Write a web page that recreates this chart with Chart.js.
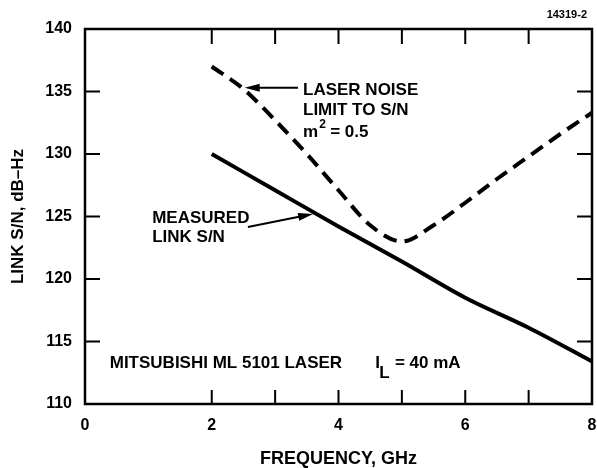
<!DOCTYPE html>
<html lang="en">
<head>
  <meta charset="UTF-8" />
  <title>Link S/N</title>
  <script src="https://cdn.jsdelivr.net/npm/chart.js"></script>
  <style>
    body, html { margin: 0; padding: 0; background: #fff; }
    #wrap { width: 597px; height: 468px; }
  </style>
</head>
<body>
  <div id="wrap"><canvas id="snChart" width="597" height="468"></canvas></div>

  <script>
    // data
    const measuredFreq = [2, 3, 4, 5, 6, 7, 8];
    const measuredSN   = [130, 127.1, 124.2, 121.4, 118.5, 116.1, 113.4];
    const noiseFreq = [2, 2.5, 3, 3.5, 4, 4.5, 5, 5.5, 6, 6.5, 7, 7.5, 8];
    const noiseSN   = [137, 135.2, 132.7, 130.0, 127.1, 124.3, 123.0, 124.3, 126.1, 128.0, 129.8, 131.6, 133.3];
    const xTickLabels = [0, 2, 4, 6, 8];
    const xTickMarks = [2, 3, 4, 5, 6, 7];
    const yTickMarks = [115, 120, 125, 130, 135];

    const FONT = '"Liberation Sans", Arial, sans-serif';
    const ctx = document.getElementById('snChart').getContext('2d');

    const toPoints = (xs, ys) => xs.map((x, i) => ({ x: x, y: ys[i] }));

    // tick marks inside the box, frame, arrows and notes
    const extras = {
      id: 'extras',
      afterDraw(chart) {
        const c = chart.ctx;
        const xs = chart.scales.x, ys = chart.scales.y;
        const a = chart.chartArea;
        c.save();
        c.strokeStyle = '#000';
        c.fillStyle = '#000';
        c.lineWidth = 2.5;
        c.strokeRect(a.left, a.top, a.right - a.left, a.bottom - a.top);

        c.lineWidth = 2;
        xTickMarks.forEach(v => {
          const px = xs.getPixelForValue(v);
          c.beginPath();
          c.moveTo(px, a.bottom); c.lineTo(px, a.bottom - 14);
          c.moveTo(px, a.top); c.lineTo(px, a.top + 15);
          c.stroke();
        });
        yTickMarks.forEach(v => {
          const py = ys.getPixelForValue(v);
          c.beginPath();
          c.moveTo(a.left, py); c.lineTo(a.left + 15, py);
          c.moveTo(a.right, py); c.lineTo(a.right - 15, py);
          c.stroke();
        });

        function arrow(x1, y1, x2, y2) {
          const p1x = xs.getPixelForValue(x1), p1y = ys.getPixelForValue(y1);
          const p2x = xs.getPixelForValue(x2), p2y = ys.getPixelForValue(y2);
          const ang = Math.atan2(p2y - p1y, p2x - p1x);
          c.lineWidth = 2;
          c.beginPath();
          c.moveTo(p1x, p1y); c.lineTo(p2x - 8 * Math.cos(ang), p2y - 8 * Math.sin(ang));
          c.stroke();
          c.beginPath();
          c.moveTo(p2x, p2y);
          c.lineTo(p2x - 15 * Math.cos(ang) + 4 * Math.sin(ang), p2y - 15 * Math.sin(ang) - 4 * Math.cos(ang));
          c.lineTo(p2x - 15 * Math.cos(ang) - 4 * Math.sin(ang), p2y - 15 * Math.sin(ang) + 4 * Math.cos(ang));
          c.closePath();
          c.fill();
        }
        arrow(3.36, 135.3, 2.52, 135.3);
        arrow(2.57, 124.16, 3.6, 125.2);

        const tx = (v) => xs.getPixelForValue(v);
        const ty = (v) => ys.getPixelForValue(v);
        c.font = 'bold 17px ' + FONT;
        c.textBaseline = 'middle';
        c.textAlign = 'left';
        c.fillText('LASER NOISE', tx(3.44), ty(135.12));
        c.fillText('LIMIT TO S/N', tx(3.44), ty(133.52));
        c.fillText('m', tx(3.44), ty(131.76));
        const mw = c.measureText('m').width;
        c.font = 'bold 12px ' + FONT;
        c.fillText('2', tx(3.44) + mw + 1, ty(131.76) - 7);
        c.font = 'bold 17px ' + FONT;
        c.fillText('= 0.5', tx(3.44) + mw + 12, ty(131.76));

        c.fillText('MEASURED', tx(1.06), ty(124.88));
        c.fillText('LINK S/N', tx(1.06), ty(123.36));

        const my = ty(113.28);
        c.fillText('MITSUBISHI ML 5101 LASER', tx(0.39), my);
        c.fillText('I', tx(4.58), my);
        c.fillText('L', tx(4.58) + 4, my + 10);
        c.fillText('= 40 mA', tx(4.89), my);

        c.font = 'bold 11px ' + FONT;
        c.textAlign = 'right';
        c.fillText('14319-2', a.right - 5, 15);
        c.restore();
      }
    };

    new Chart(ctx, {
      type: 'line',
      data: {
        datasets: [
          {
            label: 'Measured link S/N',
            data: toPoints(measuredFreq, measuredSN),
            borderColor: '#000',
            borderWidth: 4,
            pointRadius: 0,
            fill: false,
            cubicInterpolationMode: 'monotone'
          },
          {
            label: 'Laser noise limit to S/N',
            data: toPoints(noiseFreq, noiseSN),
            borderColor: '#000',
            borderWidth: 4,
            borderDash: [14, 8],
            pointRadius: 0,
            fill: false,
            cubicInterpolationMode: 'monotone'
          }
        ]
      },
      options: {
        responsive: false,
        animation: false,
        layout: { padding: { left: 0, top: 29, right: 5, bottom: 0 } },
        plugins: {
          legend: { display: false },
          tooltip: { enabled: false }
        },
        scales: {
          x: {
            type: 'linear',
            min: 0,
            max: 8,
            grid: { display: false, drawTicks: false },
            border: { display: false },
            afterFit: s => { s.height = 64; s.paddingRight = 0; s.paddingLeft = 0; },
            afterBuildTicks: s => { s.ticks = xTickLabels.map(v => ({ value: v })); },
            ticks: {
              padding: 12,
              color: '#000',
              font: { family: FONT, weight: 'bold', size: 16 }
            },
            title: {
              display: true,
              text: 'FREQUENCY, GHz',
              color: '#000',
              font: { family: FONT, weight: 'bold', size: 18, lineHeight: 1 },
              padding: { top: 0, bottom: 0 }
            }
          },
          y: {
            min: 110,
            max: 140,
            grid: { display: false, drawTicks: false },
            border: { display: false },
            afterFit: s => { s.width = 85; },
            ticks: {
              stepSize: 5,
              padding: 13,
              color: '#000',
              font: { family: FONT, weight: 'bold', size: 16 }
            },
            title: {
              display: true,
              text: 'LINK S/N, dB\u2013Hz',
              color: '#000',
              font: { family: FONT, weight: 'bold', size: 17 },
              padding: { top: 8, bottom: 0 }
            }
          }
        }
      },
      plugins: [extras]
    });
  </script>
</body>
</html>
